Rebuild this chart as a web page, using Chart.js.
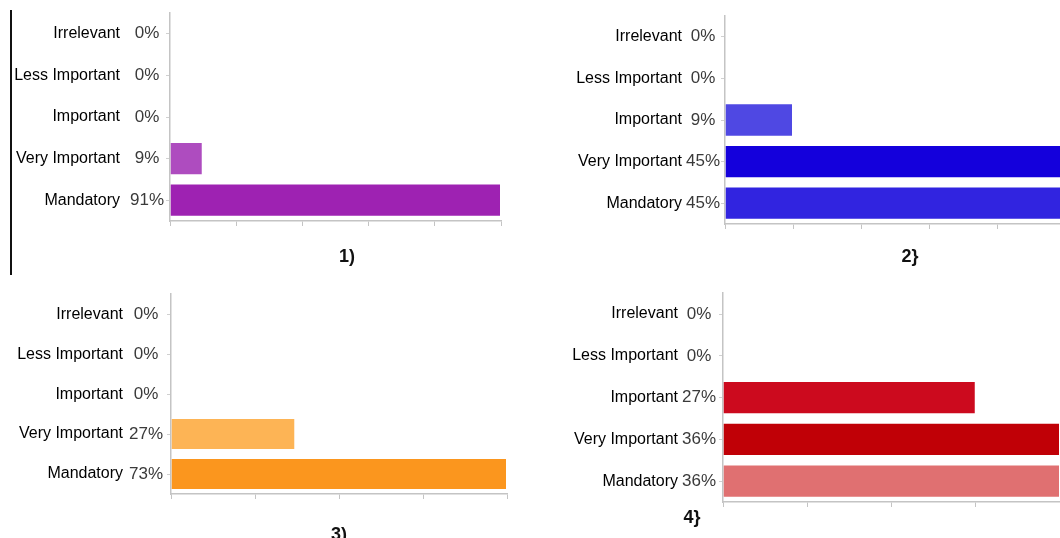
<!DOCTYPE html>
<html>
<head>
<meta charset="utf-8">
<script src="https://cdn.jsdelivr.net/npm/chart.js@4.4.1/dist/chart.umd.min.js"></script>
<style>
  body { margin: 0; width: 1060px; height: 538px; overflow: hidden; background: #fff; position: relative; }
  canvas { position: absolute; }
  .edge { position: absolute; left: 10px; top: 10px; width: 2px; height: 265px; background: #111; }
</style>
</head>
<body>
<div class="edge"></div>
<canvas id="chart1" width="530" height="280" style="left:0;top:0"></canvas>
<canvas id="chart2" width="540" height="280" style="left:530px;top:0"></canvas>
<canvas id="chart3" width="530" height="258" style="left:0;top:280px"></canvas>
<canvas id="chart4" width="540" height="258" style="left:530px;top:280px"></canvas>
<script>
const levels = ["Irrelevant", "Less Important", "Important", "Very Important", "Mandatory"];

const chart1_values = [0, 0, 0, 9, 91];
const chart2_values = [0, 0, 9, 45, 45];
const chart3_values = [0, 0, 0, 27, 73];
const chart4_values = [0, 0, 27, 36, 36];

const chart1_colors = ["#ae4cbf", "#ae4cbf", "#ae4cbf", "#ae4cbf", "#9e22b2"];
const chart2_colors = ["#4f48e3", "#4f48e3", "#4f48e3", "#1400dc", "#3124e0"];
const chart3_colors = ["#fdb455", "#fdb455", "#fdb455", "#fdb455", "#fb961e"];
const chart4_colors = ["#cc0a1e", "#cc0a1e", "#cc0a1e", "#c00006", "#e07071"];

const captions = ["1)", "2}", "3)", "4}"];

// draws the little caption under each chart
const captionPlugin = {
  id: "caption",
  afterDraw(chart, args, opts) {
    const ctx = chart.ctx;
    ctx.save();
    ctx.font = "bold 18px 'Liberation Sans', Arial, sans-serif";
    ctx.fillStyle = "#111";
    ctx.textAlign = "center";
    ctx.textBaseline = "middle";
    ctx.fillText(opts.text, opts.x, opts.y);
    ctx.restore();
  },
};

function makeChart(id, values, colors, caption, lay) {
  const pct = values.map((v) => v + "%");
  return new Chart(document.getElementById(id), {
    type: "bar",
    data: {
      labels: levels,
      datasets: [
        {
          data: values,
          backgroundColor: colors,
          borderColor: "rgba(255,255,255,0.35)",
          borderWidth: 1,
          barPercentage: 0.8,
          categoryPercentage: 1,
        },
      ],
    },
    options: {
      indexAxis: "y",
      responsive: false,
      animation: false,
      devicePixelRatio: 1,
      layout: { padding: lay.pad },
      plugins: {
        legend: { display: false },
        tooltip: { enabled: false },
        caption: { text: caption, x: lay.capX, y: lay.capY },
      },
      scales: {
        x: {
          min: 0,
          max: lay.max,
          ticks: { display: false, count: lay.count },
          grid: { drawOnChartArea: false, drawTicks: true, tickLength: 5, color: "#c4c4c4" },
          border: { color: "#c4c4c4", width: 1.5 },
          afterFit: (s) => { s.height = 6; },
        },
        y: {
          weight: 10,
          grid: { display: false, drawTicks: false },
          border: { display: false },
          ticks: {
            padding: 2,
            color: "#000",
            font: { family: "'Liberation Sans', Arial, sans-serif", size: 16 },
          },
          afterFit: (s) => { s.width = lay.catW; },
        },
        y2: {
          type: "category",
          position: "left",
          labels: pct,
          offset: true,
          weight: 0,
          grid: { offset: false, drawOnChartArea: false, tickLength: 4, color: "#d0d0d0" },
          border: { display: true, color: "#c4c4c4", width: 1.5 },
          ticks: {
            crossAlign: "center",
            padding: lay.pctPad,
            color: "#3a3a3a",
            font: { family: "'Liberation Sans', Arial, sans-serif", size: 17 },
          },
          afterFit: (s) => { s.width = lay.pctW; },
        },
      },
    },
    plugins: [captionPlugin],
  });
}

makeChart("chart1", chart1_values, chart1_colors, captions[0], {
  max: 91, count: 6, pad: { left: 0, right: 29, top: 13, bottom: 53 },
  catW: 122, pctW: 48, pctPad: 2, capX: 347, capY: 257,
});
makeChart("chart2", chart2_values, chart2_colors, captions[1], {
  max: 45, count: 6, pad: { left: 0, right: 5, top: 16, bottom: 50 },
  catW: 154, pctW: 41, pctPad: 1, capX: 380, capY: 257,
});
makeChart("chart3", chart3_values, chart3_colors, captions[2], {
  max: 73, count: 5, pad: { left: 0, right: 23, top: 6, bottom: 38 },
  catW: 125, pctW: 46, pctPad: 4, capX: 339, capY: 255,
});
makeChart("chart4", chart4_values, chart4_colors, captions[3], {
  max: 36, count: 5, pad: { left: 0, right: 10, top: 13, bottom: 30 },
  catW: 150, pctW: 43, pctPad: 3, capX: 162, capY: 238,
});
</script>
</body>
</html>
